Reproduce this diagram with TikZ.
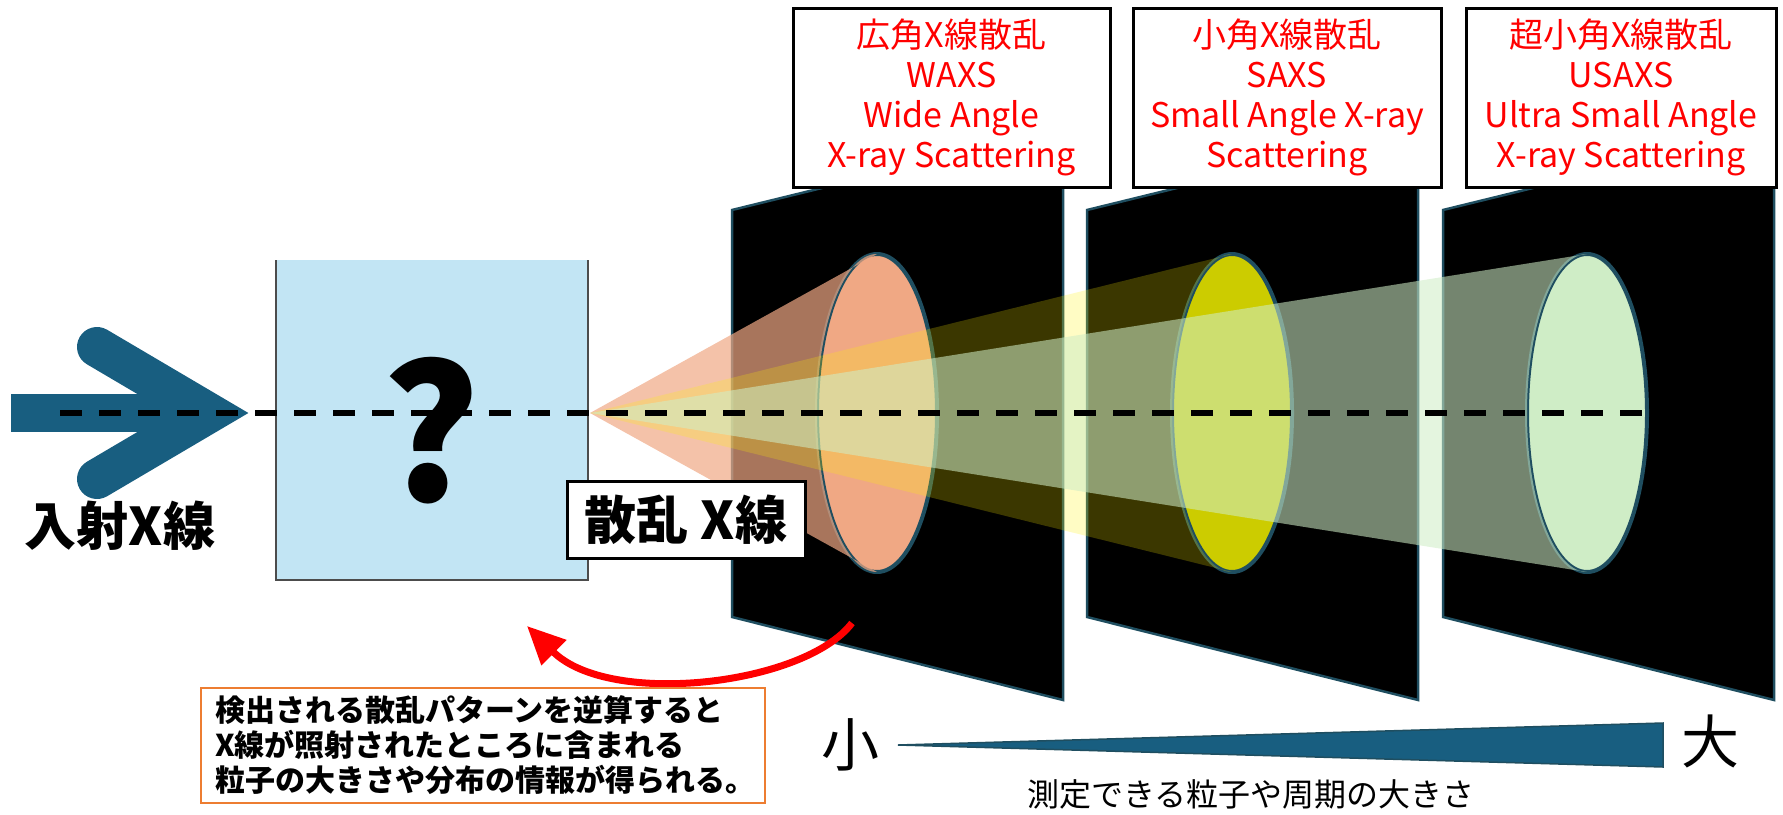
\documentclass[tikz,border=0pt]{standalone}
\usepackage{fontspec}
\setmainfont{Noto Sans CJK JP}
\usetikzlibrary{arrows.meta}
\definecolor{beamcolor}{HTML}{185E80}
\definecolor{rimcolor}{HTML}{1F4E60}
\definecolor{samplecolor}{HTML}{C2E5F4}
\definecolor{waxscolor}{HTML}{F0A884}
\definecolor{saxscolor}{HTML}{CCCC00}
\definecolor{usaxscolor}{HTML}{CFEDC6}
\definecolor{notecolor}{HTML}{ED7D31}
\colorlet{saxsbeam}{yellow}
\newcommand{\beamcone}[3]{% translucent cone from the sample to a spot
  \fill[#2, fill opacity=#3] (apex) -- (#1,254)
    arc[start angle=-90, delta angle=-180, x radius=60, y radius=159] -- cycle;
}
\tikzstyle{detector} = [fill=black, draw=rimcolor, line width=2.5]
\tikzstyle{spotrim} = [draw=rimcolor, line width=4]
\tikzstyle{labelbox} = [
    draw=black,
    line width=3,
    fill=white,
    text=red,
    font=\fontsize{34}{40}\selectfont,
    align=center,
    inner sep=0pt,
    minimum height=179
    ]
\tikzstyle{notebox} = [
    draw=notecolor,
    line width=2.5,
    fill=white,
    font=\bfseries\fontsize{30}{35}\selectfont,
    align=left,
    text width=536,
    inner xsep=14,
    minimum height=115
    ]

\begin{document}
\begin{tikzpicture}[x=1pt, y=-1pt]
\useasboundingbox (0,0) rectangle (1783,814);
\coordinate (apex) at (590,413);

% sample
\fill[samplecolor] (276,260) rectangle (588,580);
\draw[black!70, line width=2.5] (276,260) -- (276,580) -- (588,580) -- (588,260);
\node[font=\bfseries\fontsize{185}{185}\selectfont] (query) at (431,431) {?};

% incident beam
\fill[beamcolor] (11,394) rectangle (200,432);
\draw[beamcolor, line width=40, line cap=round, line join=miter]
    (97,347) -- (209,413) -- (97,479);
\node[font=\bfseries\fontsize{52}{60}\selectfont] (incident) at (120,526) {入射X線};

% detectors
\foreach \x in {732,1087,1443}
    \draw[detector] (\x,210) -- (\x+331,129) -- (\x+331,700) -- (\x,617) -- cycle;

% spots and scattered cones
\draw[spotrim, fill=waxscolor] (877,413) ellipse [x radius=60, y radius=159];
\beamcone{877}{waxscolor}{0.7}
\draw[spotrim, fill=saxscolor] (1232,413) ellipse [x radius=60, y radius=159];
\beamcone{1232}{saxsbeam}{0.23}
\draw[spotrim, fill=usaxscolor] (1587,413) ellipse [x radius=60, y radius=159];
\beamcone{1587}{usaxscolor}{0.565}

\draw[black, line width=6, dash pattern=on 22pt off 17pt] (60,413) -- (1651,413);

% method labels
\node[labelbox, minimum width=317] (waxs) at (951.5,97.5)
    {広角X線散乱\\WAXS\\Wide Angle\\X-ray Scattering};
\node[labelbox, minimum width=308] (saxs) at (1287,97.5)
    {小角X線散乱\\SAXS\\Small Angle X-ray\\Scattering};
\node[labelbox, minimum width=310] (usaxs) at (1621,97.5)
    {超小角X線散乱\\USAXS\\Ultra Small Angle\\X-ray Scattering};

\node[draw=black, line width=3, fill=white, inner sep=0pt,
      minimum width=238, minimum height=77,
      font=\bfseries\fontsize{52}{60}\selectfont] (scattered) at (686,519.5) {散乱 X線};

% back calculation
\coordinate (fromspot) at (852,623);
\coordinate (tosample) at (527,626);
\draw[red, line width=7, -{Triangle[length=38pt, width=34pt]}]
    (fromspot) .. controls +(-47,62) and +(83,82) .. (tosample);
\node[notebox] (note) at (483,745.5)
    {検出される散乱パターンを逆算すると\\X線が照射されたところに含まれる\\粒子の大きさや分布の情報が得られる。};

% size scale
\node[font=\fontsize{58}{60}\selectfont] (small) at (850,745) {小};
\node[font=\fontsize{58}{60}\selectfont] (large) at (1710,741) {大};
\fill[beamcolor, draw=rimcolor, line width=1.5] (898,745) -- (1663,723) -- (1663,767) -- cycle;
\node[font=\fontsize{32}{36}\selectfont] (sizecap) at (1251,794) {測定できる粒子や周期の大きさ};
\end{tikzpicture}
\end{document}
